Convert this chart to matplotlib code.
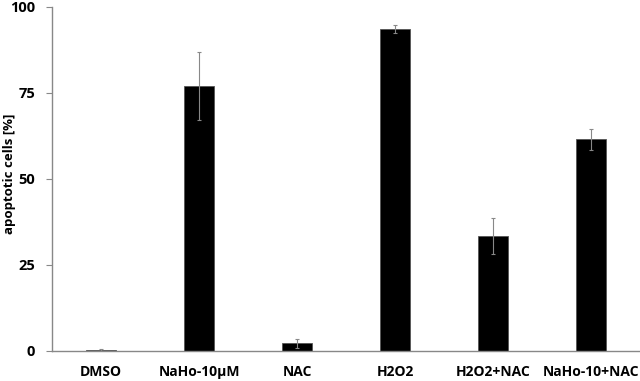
import matplotlib
matplotlib.use('Agg')
import matplotlib.pyplot as plt

categories = ["DMSO", "NaHo-10µM", "NAC", "H2O2", "H2O2+NAC", "NaHo-10+NAC"]
values = [0.3, 77.0, 2.3, 93.5, 33.5, 61.5]
errors = [0.2, 9.8, 1.3, 1.2, 5.3, 3.1]
yticks = [0, 25, 50, 75, 100]

plt.rcParams['font.family'] = ['Open Sans', 'DejaVu Sans']
plt.rcParams['font.weight'] = 'bold'

fig = plt.figure(figsize=(6.4, 3.81), dpi=100)
ax = fig.add_axes([52 / 640, 30 / 381, 588 / 640, 344 / 381])

x = list(range(len(categories)))
ax.bar(x, values, width=0.31, color='black', edgecolor='#555555', linewidth=0.6,
       yerr=errors, ecolor='#888888', error_kw=dict(elinewidth=0.8, capsize=1.5, capthick=0.8))

ax.set_xlim(-0.5, len(categories) - 0.5)
ax.set_ylim(0, 100)
ax.set_yticks(yticks)
ax.set_xticks(x)
ax.set_xticklabels(categories, fontsize=10, fontweight='bold')
ax.set_yticklabels([str(t) for t in yticks], fontsize=10.5, fontweight='bold')

# y label placed by hand, close to the left edge as in the original
fig.text(10 / 640, 1 - 174 / 381, "apoptotic cells [%]", rotation=90,
         ha='center', va='center', fontsize=9.5, fontweight='bold')

for s in ['top', 'right']:
    ax.spines[s].set_visible(False)
for s in ['left', 'bottom']:
    ax.spines[s].set_color('#888888')
    ax.spines[s].set_linewidth(1.0)
ax.tick_params(axis='y', color='#888888', length=4, direction='out', pad=8)
ax.tick_params(axis='x', length=0, pad=10)

plt.savefig("out.png", dpi=100)
plt.close()
